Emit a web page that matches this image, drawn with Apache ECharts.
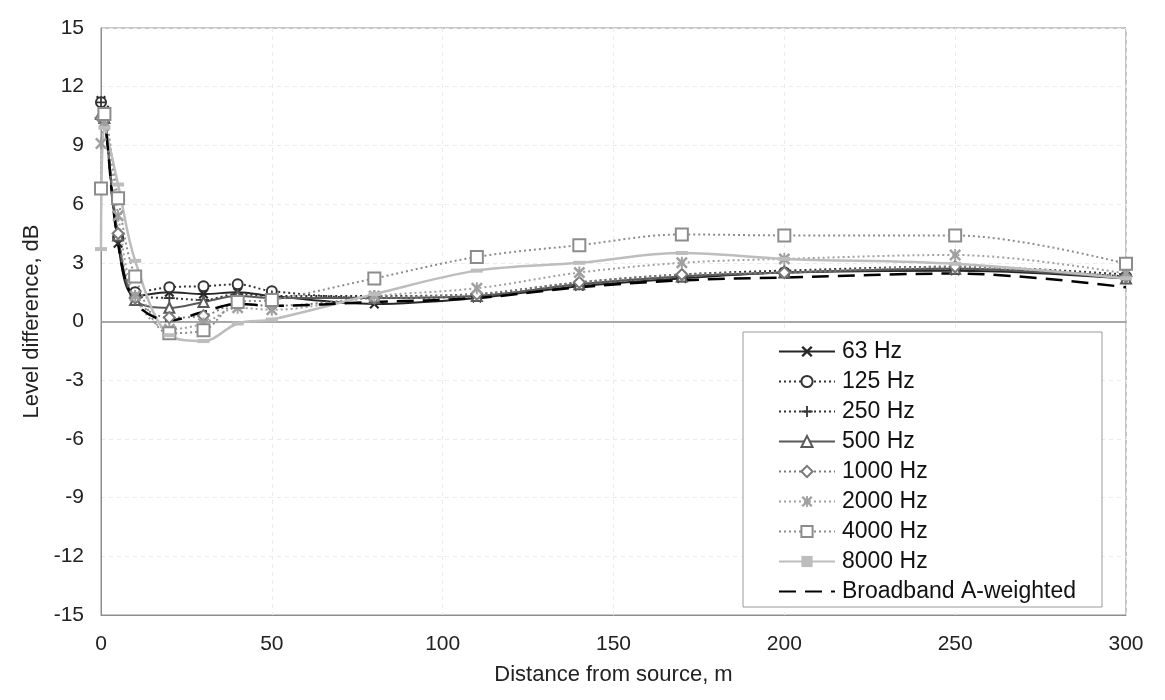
<!DOCTYPE html>
<html>
<head>
<meta charset="utf-8">
<script src="https://cdn.jsdelivr.net/npm/echarts@6/dist/echarts.min.js"></script>
<style>
  html, body { margin: 0; padding: 0; background: #fff; }
  #main { width: 1165px; height: 700px; }
</style>
</head>
<body>
<div id="main"></div>
<script>
// distance from source, m
const distances = [0, 1, 5, 10, 20, 30, 40, 50, 80, 110, 140, 170, 200, 250, 300];

// level difference, dB
const hz63    = [11.3, 10.8, 4.0, 1.3, 1.5, 1.4, 1.5, 1.3, 0.9, 1.2, 1.8, 2.2, 2.5, 2.6, 2.2];
const hz125   = [11.2, 10.5, 4.3, 1.5, 1.75, 1.8, 1.9, 1.55, 1.2, 1.3, 1.9, 2.3, 2.5, 2.7, 2.3];
const hz250   = [11.2, 10.6, 4.2, 1.3, 1.2, 1.1, 1.4, 1.3, 1.3, 1.4, 2.0, 2.4, 2.6, 2.8, 2.4];
const hz500   = [10.6, 10.4, 4.4, 1.1, 0.7, 1.0, 1.3, 1.2, 1.2, 1.3, 1.9, 2.3, 2.5, 2.7, 2.2];
const hz1000  = [10.4, 10.3, 4.5, 1.2, 0.2, 0.3, 0.9, 0.8, 1.2, 1.4, 2.0, 2.4, 2.5, 2.8, 2.3];
const hz2000  = [9.1, 10.2, 5.4, 1.3, -0.4, -0.1, 0.7, 0.6, 1.3, 1.7, 2.5, 3.0, 3.2, 3.4, 2.45];
const hz4000  = [6.8, 10.6, 6.3, 2.3, -0.6, -0.45, 1.0, 1.1, 2.2, 3.3, 3.9, 4.45, 4.4, 4.4, 2.95];
const hz8000  = [3.7, 9.9, 7.0, 3.1, -0.7, -1.0, -0.1, 0.1, 1.4, 2.6, 3.0, 3.5, 3.2, 2.95, 2.2];
const broadband = [10.9, 10.5, 4.0, 1.0, 0.05, 0.5, 0.9, 0.8, 1.0, 1.2, 1.75, 2.1, 2.25, 2.45, 1.75];

const seriesNames = ['63 Hz', '125 Hz', '250 Hz', '500 Hz', '1000 Hz', '2000 Hz', '4000 Hz', '8000 Hz', 'Broadband A-weighted'];

const xMark = 'path://M1.5,0 L5,3.5 L8.5,0 L10,1.5 L6.5,5 L10,8.5 L8.5,10 L5,6.5 L1.5,10 L0,8.5 L3.5,5 L0,1.5 Z';
const plusMark = 'path://M4.2,0 H5.8 V4.2 H10 V5.8 H5.8 V10 H4.2 V5.8 H0 V4.2 H4.2 Z';
const starMark = 'path://M1.5,0 L5,3.5 L8.5,0 L10,1.5 L6.5,5 L10,8.5 L8.5,10 L5,6.5 L1.5,10 L0,8.5 L3.5,5 L0,1.5 Z M4.2,0 H5.8 V10 H4.2 Z';
const dashMark = 'path://M0,0 H10 V3 H0 Z';

function pairs(ys) {
  return distances.map((d, i) => [d, ys[i]]);
}

function mk(name, ys, color, lineType, width, symbol, size) {
  return {
    name: name,
    type: 'line',
    data: pairs(ys),
    smooth: 0.35,
    symbol: symbol,
    symbolSize: size,
    showSymbol: symbol !== 'none',
    lineStyle: { color: color, type: lineType, width: width },
    itemStyle: { color: color, borderWidth: 2 },
    emphasis: { disabled: true },
    z: 3
  };
}

const chart = echarts.init(document.getElementById('main'));
const font = 'Liberation Sans, Arial, sans-serif';

const series = [
  mk('63 Hz', hz63, '#262626', 'solid', 2, xMark, 10),
  mk('125 Hz', hz125, '#333333', [2, 3], 2, 'emptyCircle', 10),
  mk('250 Hz', hz250, '#333333', [2, 3], 2, plusMark, 11),
  mk('500 Hz', hz500, '#595959', 'solid', 2, 'emptyTriangle', 10),
  mk('1000 Hz', hz1000, '#7a7a7a', [2, 3], 2, 'emptyDiamond', 11),
  mk('2000 Hz', hz2000, '#a0a0a0', [2, 3], 2, starMark, 12),
  mk('4000 Hz', hz4000, '#8c8c8c', [2, 3], 2, 'emptyRect', 12),
  mk('8000 Hz', hz8000, '#bdbdbd', 'solid', 2.5, dashMark, [12, 4]),
  mk('Broadband A-weighted', broadband, '#000000', [17, 9], 2.5, 'none', 0)
];

// horizontal line at 0 dB
series[0].markLine = {
  silent: true,
  symbol: 'none',
  label: { show: false },
  lineStyle: { color: '#8c8c8c', type: 'solid', width: 1.5 },
  data: [{ yAxis: 0 }],
  z: 1
};

const legendData = seriesNames.map(n => n === 'Broadband A-weighted'
  ? { name: n, itemStyle: { opacity: 0 } }
  : { name: n });

chart.setOption({
  animation: false,
  backgroundColor: '#fff',
  grid: {
    left: 101, right: 39, top: 28, bottom: 85,
    show: true, borderColor: '#8c8c8c', borderWidth: 1
  },
  legend: {
    data: legendData,
    orient: 'vertical',
    left: 743,
    top: 332,
    padding: [8, 26, 4, 35],
    itemWidth: 56,
    itemHeight: 14,
    itemGap: 7,
    backgroundColor: '#fff',
    borderColor: '#9a9a9a',
    borderWidth: 1,
    textStyle: { fontFamily: font, fontSize: 23, lineHeight: 23, color: '#111', padding: [0, 0, 0, 2] }
  },
  xAxis: {
    type: 'value',
    min: 0, max: 300, interval: 50,
    name: 'Distance from source, m',
    nameLocation: 'middle',
    nameGap: 49,
    nameTextStyle: { fontFamily: font, fontSize: 22, color: '#222' },
    axisLine: { onZero: false, lineStyle: { color: '#8c8c8c' } },
    axisTick: { show: false },
    axisLabel: { fontFamily: font, fontSize: 21, color: '#222', margin: 19 },
    splitLine: { show: true, lineStyle: { color: '#ebebeb', type: [4, 4] } }
  },
  yAxis: {
    type: 'value',
    min: -15, max: 15, interval: 3,
    name: 'Level difference, dB',
    nameLocation: 'middle',
    nameGap: 57,
    nameTextStyle: { fontFamily: font, fontSize: 22, color: '#222' },
    axisLine: { show: true, lineStyle: { color: '#8c8c8c' } },
    axisTick: { show: false },
    axisLabel: { fontFamily: font, fontSize: 21, color: '#222', margin: 17 },
    splitLine: { show: true, lineStyle: { color: '#ebebeb', type: [4, 4] } }
  },
  series: series
});
</script>
</body>
</html>
